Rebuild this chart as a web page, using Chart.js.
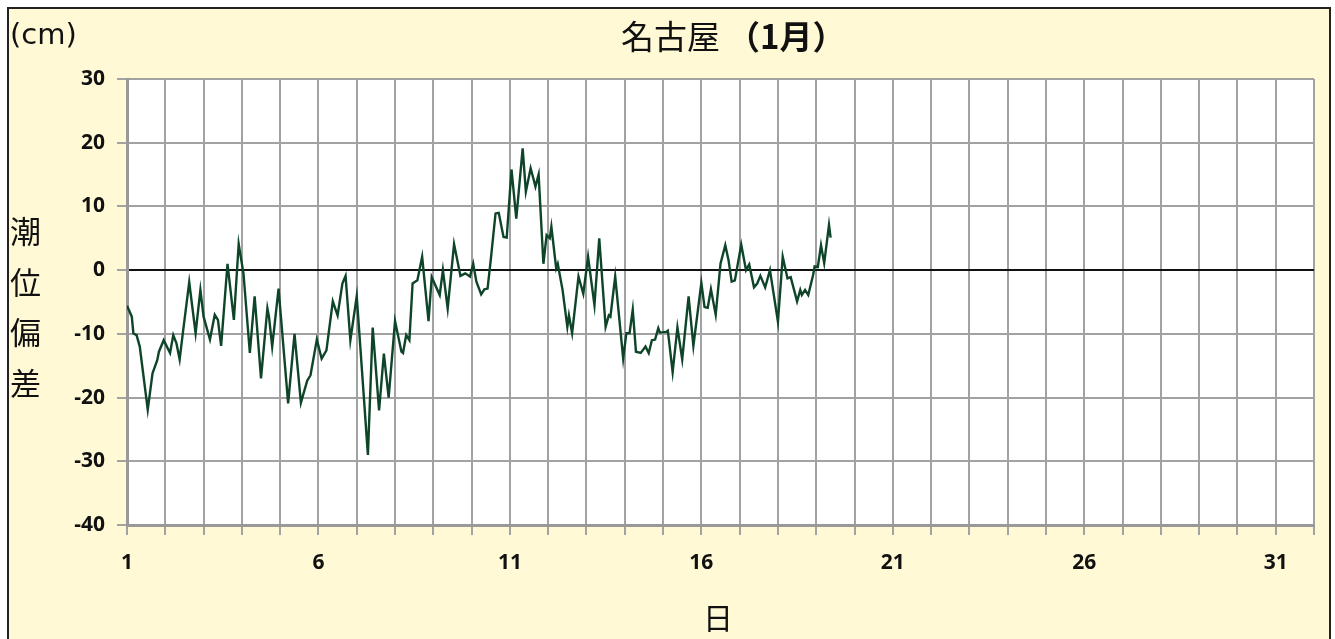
<!DOCTYPE html>
<html>
<head>
<meta charset="utf-8">
<script src="https://cdn.jsdelivr.net/npm/chart.js@4.4.1/dist/chart.umd.min.js"></script>
<style>
  body { margin: 0; background: #fff; overflow: hidden; }
  #wrap { position: relative; width: 1335px; height: 639px; }
  #frame { position: absolute; left: 7px; top: 7px; width: 1320px; height: 700px;
           border: 2px solid #222; background: #fff9d6; }
  #box { position: absolute; left: 0; top: 0; width: 1335px; height: 639px; }
  .lbl { position: absolute; color: #111; white-space: nowrap; line-height: 1; }
  #unit { left: 10px; top: 17px; font: 29px "DejaVu Sans", sans-serif; }
  #place { left: 621px; top: 11px; font: 33px "Noto Sans CJK JP", sans-serif; }
  #month { left: 727px; top: 11px; font: bold 33px "Noto Sans CJK JP", sans-serif; }
  #ytitle { left: 10px; top: 205px; width: 32px; font: 31px "Noto Sans CJK JP", sans-serif;
            line-height: 50.7px; white-space: normal; }
  #xtitle { left: 703px; top: 594px; font: 30px "Noto Sans CJK JP", sans-serif; }
</style>
</head>
<body>
<div id="wrap">
  <div id="frame"></div>
  <div id="box"><canvas id="tideChart"></canvas></div>
  <div class="lbl" id="unit">(cm)</div>
  <div class="lbl" id="place">名古屋</div>
  <div class="lbl" id="month">（1月）</div>
  <div class="lbl" id="ytitle">潮<br>位<br>偏<br>差</div>
  <div class="lbl" id="xtitle">日</div>
</div>
<script>
// hours elapsed since 1 Jan 00:00
const hours = [
  0, 3, 4, 6, 8, 13, 16, 19, 20, 23, 25, 27, 29, 31, 33, 35, 39, 43, 46, 48,
  52, 55, 57, 59, 63, 67, 70, 73, 77, 80, 84, 88, 89, 91, 95, 101, 105, 109, 113, 115,
  119, 122, 125, 129, 132, 135, 137, 140, 144, 151, 154, 158, 161, 164, 168, 172, 173, 175, 177, 179,
  182, 185, 189, 191, 196, 198, 201, 205, 209, 212, 215, 217, 219, 222, 224, 226, 228, 231, 233, 236,
  238, 241, 244, 248, 250, 253, 255, 256, 258, 261, 263, 265, 266, 269, 270, 273, 276, 277, 279, 283,
  286, 289, 293, 296, 300, 302, 303, 306, 311, 313, 315, 317, 319, 322, 325, 327, 329, 331, 333, 334,
  338, 339, 342, 345, 348, 352, 355, 360, 362, 364, 366, 369, 372, 375, 377, 379, 381, 385, 388, 390,
  393, 395, 397, 400, 403, 408, 411, 414, 416, 420, 422, 423, 425, 427, 430, 431, 433, 435, 437, 440,
  441
];
// tide deviation (cm)
const deviation = [
  -5.6, -7.3, -9.9, -10.2, -12, -21.9, -16.2, -14.1, -12.8, -11, -12, -13, -10.2, -11.5, -14, -9.9, -1.9, -9.9, -3.1, -7.3,
  -10.9, -7, -7.8, -11.9, 1, -7.8, 4.1, -0.5, -13, -4.1, -17, -6, -7.3, -12, -2.9, -20.9, -10, -20.8, -17.3, -16.5,
  -10.9, -13.9, -12.6, -4.9, -7.1, -2.1, -0.9, -11, -4.1, -29, -9, -22, -13.1, -20, -8, -12.8, -13, -10.2, -11, -2.1,
  -1.6, 2.1, -8, -1.1, -3.9, 0, -6, 4.1, -0.9, -0.5, -1, 1, -1.8, -3.8, -3, -2.9, 1.6, 8.9, 9, 5.2,
  5.1, 15.8, 8.1, 19.1, 12.3, 16, 14.1, 13.1, 15, 1, 5.5, 5, 6.8, 0.3, 1, -3.1, -8.9, -7.1, -9.9, -1,
  -3.7, 2.1, -5.5, 5, -8.9, -7.1, -7.3, -1, -13.9, -9.9, -9.9, -6.2, -12.8, -13, -12, -13, -11, -10.9, -9.1, -9.8,
  -9.7, -9.5, -16, -9, -14, -4.1, -11.9, -2, -5.8, -5.9, -3, -7, 1, 3.9, 1.6, -1.8, -1.6, 4, 0, 0.9,
  -2.7, -2.1, -0.9, -2.7, 0, -8.1, 2.1, -1.3, -1.1, -4.9, -3.1, -3.9, -3.1, -3.9, -0.8, 0.6, 0.5, 3.9, 1.1, 7.1,
  5.1
];
const dayLabels = [1, 6, 11, 16, 21, 26, 31];
const yMin = -40, yMax = 30, yStep = 10;

const points = hours.map((h, i) => ({ x: 1 + h / 24, y: deviation[i] }));

const gridGray = '#a2a2a2';
const tickFont = { family: 'Open Sans', size: 21, weight: 'bold' };

// white plot area on the yellow panel
const plotBg = {
  id: 'plotBg',
  beforeDraw(chart) {
    const a = chart.chartArea, c = chart.ctx;
    c.save();
    c.fillStyle = '#ffffff';
    c.fillRect(a.left, a.top, a.right - a.left, a.bottom - a.top);
    c.restore();
  }
};

new Chart(document.getElementById('tideChart'), {
  type: 'line',
  data: {
    datasets: [{
      data: points,
      borderColor: '#0e4529',
      borderWidth: 2.4,
      pointRadius: 0,
      tension: 0
    }]
  },
  options: {
    responsive: true,
    maintainAspectRatio: false,
    animation: false,
    layout: { padding: { top: 79, right: 21, left: 0, bottom: 0 } },
    plugins: { legend: { display: false }, tooltip: { enabled: false } },
    scales: {
      x: {
        type: 'linear',
        min: 1, max: 32,
        afterFit: s => { s.height = 114; },
        ticks: {
          stepSize: 1, autoSkip: false, maxRotation: 0, padding: 15,
          color: '#111', font: tickFont,
          callback: v => dayLabels.includes(v) ? String(v) : ''
        },
        grid: { color: gridGray, lineWidth: 2, tickLength: 10, tickColor: gridGray },
        border: { color: '#999999', width: 3 }
      },
      y: {
        min: yMin, max: yMax,
        afterFit: s => { s.width = 127; },
        ticks: { stepSize: yStep, padding: 12, color: '#111', font: tickFont },
        grid: {
          color: c => c.tick.value === 0 ? '#111' : gridGray,
          lineWidth: 2,
          tickLength: 10, tickColor: gridGray
        },
        border: { color: '#999999', width: 3 }
      }
    }
  },
  plugins: [plotBg]
});
</script>
</body>
</html>
